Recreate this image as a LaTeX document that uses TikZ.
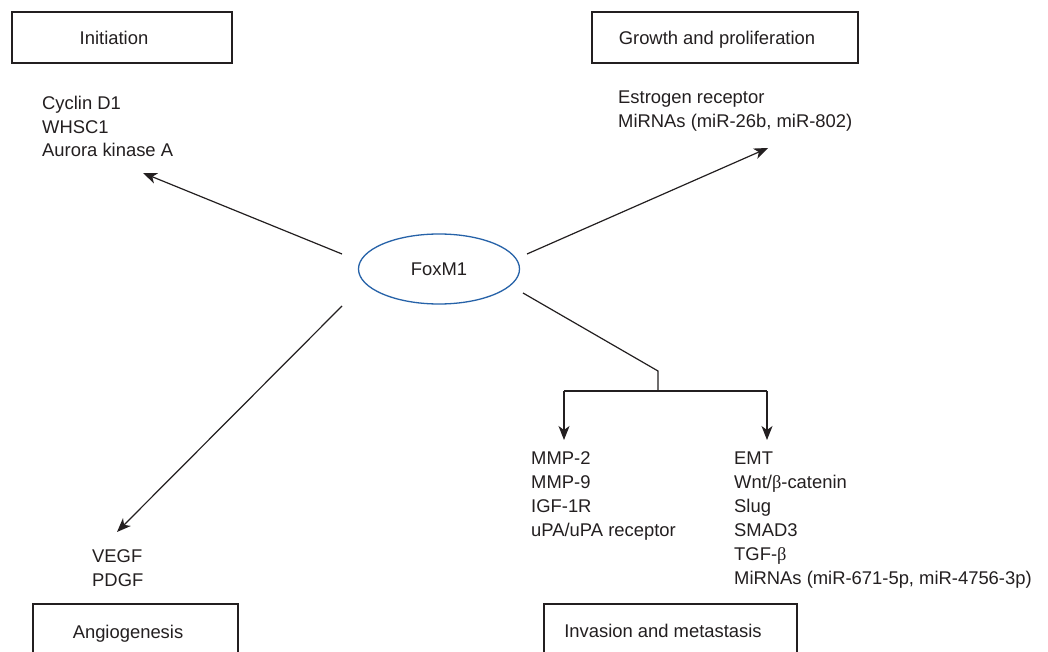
\documentclass[tikz,border=0pt]{standalone}
\usepackage{fontspec}
\setmainfont{Liberation Sans}
\newfontfamily\grk{Liberation Serif}
\usetikzlibrary{shapes.geometric,arrows.meta}
\definecolor{txt}{HTML}{231F20}
\definecolor{foxblue}{RGB}{38,98,168}
\begin{document}
\begin{tikzpicture}[x=1pt,y=-1pt,
  lbl/.style={anchor=base west, inner sep=0pt, text=txt, font=\fontsize{18.4}{24}\selectfont},
  ttl/.style={anchor=base, inner sep=0pt, text=txt, font=\fontsize{18.4}{24}\selectfont},
  boxnode/.style={draw=txt, line width=1.1pt, inner sep=0pt},
  conn/.style={draw=txt, line width=1.2pt},
  arr/.style={conn, -{Stealth[length=14pt,width=11pt,inset=4pt]}}]
\clip (0,0) rectangle (1048,652);
\fill[white] (0,0) rectangle (1048,652);
% boxes
\node[boxnode, minimum width=220pt, minimum height=51pt] (binit) at (122,37.5) {};
\node[ttl] (tinit) at (114,44.6) {Initiation};
\node[boxnode, minimum width=266pt, minimum height=51pt] (bgrow) at (725,37.5) {};
\node[ttl] (tgrow) at (717,44.6) {Growth and proliferation};
\node[boxnode, minimum width=205pt, minimum height=96pt] (bangio) at (135.5,652) {};
\node[ttl] (tangio) at (128,638.6) {Angiogenesis};
\node[boxnode, minimum width=253pt, minimum height=96pt] (binv) at (670.5,652) {};
\node[ttl] (tinv) at (663,637.6) {Invasion and metastasis};
% centre
\node[draw=foxblue, line width=1.3pt, ellipse, minimum width=161pt, minimum height=70pt, inner sep=0pt, text=txt, font=\fontsize{18.4}{24}\selectfont] (fox) at (439,269) {FoxM1};
% lists
\node[lbl] (i1) at (42,109.6) {Cyclin D1};
\node[lbl] (i2) at (42,133.3) {WHSC1};
\node[lbl] (i3) at (42,157) {Aurora kinase A};
\node[lbl] (g1) at (618,104) {Estrogen receptor};
\node[lbl] (g2) at (618,128) {MiRNAs (miR-26b, miR-802)};
\node[lbl] (a1) at (92,562.6) {VEGF};
\node[lbl] (a2) at (92,586) {PDGF};
\node[lbl] (m1) at (531,464.6) {MMP-2};
\node[lbl] (m2) at (531,488.6) {MMP-9};
\node[lbl] (m3) at (531,512.6) {IGF-1R};
\node[lbl] (m4) at (531,536.6) {uPA/uPA receptor};
\node[lbl] (e1) at (734,464.6) {EMT};
\node[lbl] (e2) at (734,488.6) {Wnt/{\grk β}-catenin};
\node[lbl] (e3) at (734,512.6) {Slug};
\node[lbl] (e4) at (734,536.6) {SMAD3};
\node[lbl] (e5) at (734,560.6) {TGF-{\grk β}};
\node[lbl] (e6) at (734,584.6) {MiRNAs (miR-671-5p, miR-4756-3p)};
% connector points
\coordinate (s1) at (342,254);
\coordinate (t1) at (143,173);
\coordinate (s2) at (527,254);
\coordinate (t2) at (768,148);
\coordinate (s3) at (342,306);
\coordinate (t3) at (117,532);
\coordinate (s4) at (523,293);
\coordinate (k4) at (658,371);
\coordinate (j4) at (658,391);
\coordinate (l4) at (564,391);
\coordinate (r4) at (767,391);
\coordinate (tl) at (564,440);
\coordinate (tr) at (767,440);
% connectors
\draw[arr] (s1) -- (t1);
\draw[arr] (s2) -- (t2);
\draw[arr] (s3) -- (t3);
\draw[conn] (s4) -- (k4) -- (j4);
\draw[conn] (l4) -- (r4);
\draw[arr] (l4) -- (tl);
\draw[arr] (r4) -- (tr);
\end{tikzpicture}
\end{document}
